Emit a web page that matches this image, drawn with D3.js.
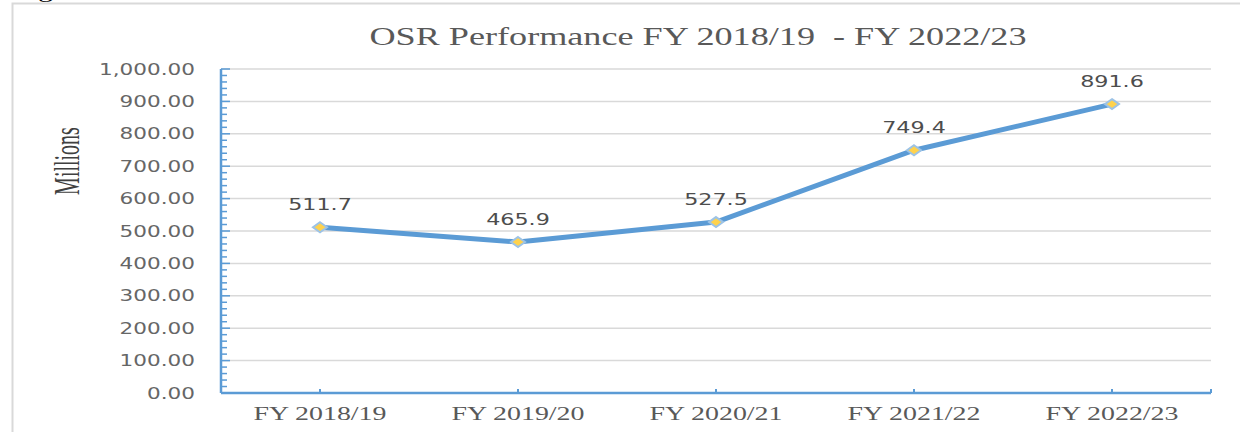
<!DOCTYPE html>
<html>
<head>
<meta charset="utf-8">
<script src="https://cdn.jsdelivr.net/npm/d3@7"></script>
<style>
  body { margin: 0; background: #fff; }
  svg { display: block; }
</style>
</head>
<body>
<div id="chart"></div>
<script>
// OSR values, millions
const years = ["FY 2018/19", "FY 2019/20", "FY 2020/21", "FY 2021/22", "FY 2022/23"];
const osr = [511.7, 465.9, 527.5, 749.4, 891.6];
const yTicks = [0, 100, 200, 300, 400, 500, 600, 700, 800, 900, 1000];

const full_width = 1240, full_height = 432;
const margin = {top: 69, bottom: 39, left: 221, right: 29};
const width = full_width - margin.left - margin.right;
const height = full_height - margin.top - margin.bottom;

// the source picture is squashed wide, so text gets stretched sideways
const SX = 1.39;

const svg = d3.select('#chart').append('svg')
  .attr('width', full_width)
  .attr('height', full_height);

// frame of the figure box
svg.append('rect')
  .attr('x', 12.5).attr('y', 3.5)
  .attr('width', 1300).attr('height', 500)
  .attr('fill', 'none')
  .attr('stroke', '#d9d9d9')
  .attr('stroke-width', 2);

// leftover of the caption above the box (cut off in the source too)
svg.append('text')
  .attr('transform', 'translate(38,-3) scale(' + SX + ',1)')
  .attr('font-family', 'Liberation Serif, serif')
  .attr('font-size', 22)
  .attr('fill', '#000')
  .text('g');

const stretch = (sel, k) => sel.each(function() {
  const len = this.getComputedTextLength();
  d3.select(this).attr('textLength', len * k).attr('lengthAdjust', 'spacingAndGlyphs');
});

const g = svg.append('g')
  .attr('transform', 'translate(' + margin.left + ',' + margin.top + ')');

const x = d3.scaleBand().domain(years).range([0, width]).padding(0);
const y = d3.scaleLinear().domain([0, 1000]).range([height, 0]);
const cx = d => x(d) + x.bandwidth() / 2;

// gridlines
g.append('g')
  .selectAll('line')
  .data(yTicks.filter(t => t > 0))
  .enter().append('line')
    .attr('x1', 0).attr('x2', width)
    .attr('y1', d => y(d)).attr('y2', d => y(d))
    .attr('stroke', '#d9d9d9')
    .attr('stroke-width', 1.5);

// y axis, ticks point inwards
const minor = d3.range(0, 1001, 20);
g.append('g')
  .selectAll('line')
  .data(minor)
  .enter().append('line')
    .attr('x1', 0)
    .attr('x2', d => d % 100 === 0 ? 9 : 6)
    .attr('y1', d => y(d)).attr('y2', d => y(d))
    .attr('stroke', '#5b9bd5')
    .attr('stroke-width', 1.5);
g.append('line')
  .attr('x1', 0).attr('x2', 0)
  .attr('y1', y(1000)).attr('y2', y(0))
  .attr('stroke', '#5b9bd5')
  .attr('stroke-width', 2.5);

g.append('g')
  .selectAll('text')
  .data(yTicks)
  .enter().append('text')
    .attr('x', -26)
    .attr('y', d => y(d))
    .attr('dy', '0.36em')
    .attr('text-anchor', 'end')
    .attr('font-family', 'DejaVu Sans, sans-serif')
    .attr('font-size', 15.5)
    .attr('fill', '#666666')
    .text(d => d3.format(',.2f')(d))
    .call(stretch, SX);

// x axis
g.append('line')
  .attr('x1', 0).attr('x2', width)
  .attr('y1', height).attr('y2', height)
  .attr('stroke', '#5b9bd5')
  .attr('stroke-width', 2.5);
g.append('g')
  .selectAll('line')
  .data(years)
  .enter().append('line')
    .attr('x1', d => cx(d)).attr('x2', d => cx(d))
    .attr('y1', height).attr('y2', height - 4)
    .attr('stroke', '#5b9bd5')
    .attr('stroke-width', 2);
g.append('line')
  .attr('x1', width).attr('x2', width)
  .attr('y1', height).attr('y2', height - 4)
  .attr('stroke', '#5b9bd5')
  .attr('stroke-width', 2);

g.append('g')
  .selectAll('text')
  .data(years)
  .enter().append('text')
    .attr('x', d => cx(d))
    .attr('y', height + 27)
    .attr('text-anchor', 'middle')
    .attr('font-family', 'Liberation Serif, serif')
    .attr('font-size', 18.5)
    .attr('fill', '#595959')
    .text(d => d)
    .attr('textLength', 133)
    .attr('lengthAdjust', 'spacingAndGlyphs');

// the line
const line = d3.line()
  .x((d, i) => cx(years[i]))
  .y(d => y(d));

g.append('path')
  .datum(osr)
  .attr('d', line)
  .attr('fill', 'none')
  .attr('stroke', '#5b9bd5')
  .attr('stroke-width', 5)
  .attr('stroke-linejoin', 'round')
  .attr('stroke-linecap', 'round');

// diamond markers
const diamond = 'M0,-5L7,0L0,5L-7,0Z';
g.append('g')
  .selectAll('path')
  .data(osr)
  .enter().append('path')
    .attr('d', diamond)
    .attr('transform', (d, i) => 'translate(' + cx(years[i]) + ',' + y(d) + ')')
    .attr('fill', '#ffd24d')
    .attr('stroke', '#9dc3e6')
    .attr('stroke-width', 2);

// value labels
g.append('g')
  .selectAll('text')
  .data(osr)
  .enter().append('text')
    .attr('x', (d, i) => cx(years[i]))
    .attr('y', d => y(d) - 17)
    .attr('text-anchor', 'middle')
    .attr('font-family', 'DejaVu Sans, sans-serif')
    .attr('font-size', 16)
    .attr('fill', '#4d4d4d')
    .text(d => d3.format('.1f')(d))
    .call(stretch, SX);

// title
svg.append('text')
  .attr('x', 698)
  .attr('y', 45)
  .attr('text-anchor', 'middle')
  .attr('font-family', 'Liberation Serif, serif')
  .attr('font-size', 25)
  .attr('fill', '#595959')
  .attr('xml:space', 'preserve')
  .style('white-space', 'pre')
  .text('OSR Performance FY 2018/19  - FY 2022/23')
  .attr('textLength', 657)
  .attr('lengthAdjust', 'spacingAndGlyphs');

// y axis title
svg.append('text')
  .attr('transform', 'translate(79,161) scale(1.75,1) rotate(-90)')
  .attr('text-anchor', 'middle')
  .attr('font-family', 'Liberation Serif, serif')
  .attr('font-size', 20)
  .attr('fill', '#404040')
  .text('Millions');
</script>
</body>
</html>
